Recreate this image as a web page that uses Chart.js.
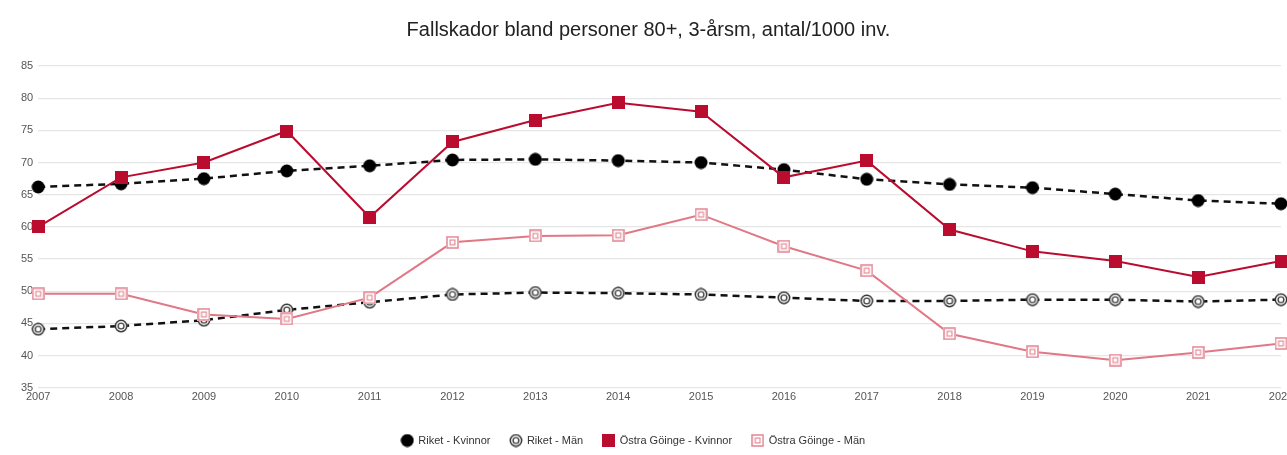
<!DOCTYPE html>
<html>
<head>
<meta charset="utf-8">
<script src="https://cdn.jsdelivr.net/npm/chart.js@4.4.1/dist/chart.umd.min.js"></script>
<style>
  html, body { margin: 0; padding: 0; background: #fff; overflow: hidden; }
  #wrap { width: 1300px; height: 455px; }
</style>
</head>
<body>
<div id="wrap"><canvas id="c" width="1300" height="455"></canvas></div>
<script>
const years = ['2007','2008','2009','2010','2011','2012','2013','2014','2015','2016','2017','2018','2019','2020','2021','2022'];
const riketKvinnor = [66.2, 66.7, 67.5, 68.7, 69.5, 70.4, 70.5, 70.3, 70.0, 68.9, 67.4, 66.6, 66.1, 65.1, 64.1, 63.6];
const riketMan = [44.1, 44.6, 45.5, 47.1, 48.3, 49.5, 49.8, 49.7, 49.5, 49.0, 48.5, 48.5, 48.7, 48.7, 48.4, 48.7];
const goingeKvinnor = [60.0, 67.7, 70.0, 74.9, 61.5, 73.2, 76.6, 79.3, 77.9, 67.7, 70.3, 59.6, 56.2, 54.7, 52.2, 54.7];
const goingeMan = [49.6, 49.6, 46.4, 45.7, 49.0, 57.6, 58.6, 58.7, 61.9, 57.0, 53.2, 43.4, 40.6, 39.3, 40.5, 41.9];
const seriesNames = ['Riket - Kvinnor', 'Riket - Män', 'Östra Göinge - Kvinnor', 'Östra Göinge - Män'];
const titleText = 'Fallskador bland personer 80+, 3-årsm, antal/1000 inv.';

const DARK_RED = '#BA0C2F';
const LIGHT_RED = '#E07886';
const FONT = 'Liberation Sans, Arial, sans-serif';

function makeCanvas(size, draw) {
  const c = document.createElement('canvas');
  c.width = size; c.height = size;
  draw(c.getContext('2d'), size);
  return c;
}
const blackDot = makeCanvas(14, (ctx, s) => {
  ctx.fillStyle = '#000';
  ctx.beginPath(); ctx.arc(s/2, s/2, 6.5, 0, Math.PI*2); ctx.fill();
});
const ringDot = makeCanvas(14, (ctx, s) => {
  ctx.fillStyle = '#fff';
  ctx.beginPath(); ctx.arc(s/2, s/2, 6.2, 0, Math.PI*2); ctx.fill();
  ctx.strokeStyle = '#333'; ctx.lineWidth = 1.5;
  ctx.beginPath(); ctx.arc(s/2, s/2, 5.7, 0, Math.PI*2); ctx.stroke();
  ctx.strokeStyle = '#444'; ctx.lineWidth = 1.4;
  ctx.beginPath(); ctx.arc(s/2, s/2, 2.9, 0, Math.PI*2); ctx.stroke();
});
const redSquare = makeCanvas(13, (ctx, s) => {
  ctx.fillStyle = DARK_RED;
  ctx.fillRect(0, 0, s, s);
});
const hollowSquare = makeCanvas(13, (ctx, s) => {
  ctx.fillStyle = '#fff';
  ctx.fillRect(0, 0, s, s);
  ctx.strokeStyle = '#E58C98'; ctx.lineWidth = 1.6;
  ctx.strokeRect(1, 1, s-2, s-2);
  ctx.lineWidth = 1.2;
  ctx.strokeRect(4.1, 4.1, s-8.2, s-8.2);
});

// nudge the legend box to the reference position after layout
const legendShift = {
  id: 'legendShift',
  afterLayout(chart) {
    const lg = chart.legend;
    const dx = -15, dy = 1;
    lg.left += dx; lg.right += dx;
    lg.top += dy; lg.bottom += dy;
  }
};

new Chart(document.getElementById('c'), {
  type: 'line',
  data: {
    labels: years,
    datasets: [
      { label: seriesNames[0], data: riketKvinnor, borderColor: '#111', borderWidth: 2.5, borderDash: [7, 5],
        pointStyle: blackDot, pointRadius: 7, order: 2 },
      { label: seriesNames[1], data: riketMan, borderColor: '#111', borderWidth: 2.5, borderDash: [7, 5],
        pointStyle: ringDot, pointRadius: 7, order: 3 },
      { label: seriesNames[2], data: goingeKvinnor, borderColor: DARK_RED, borderWidth: 2,
        pointStyle: redSquare, pointRadius: 7, order: 0 },
      { label: seriesNames[3], data: goingeMan, borderColor: LIGHT_RED, borderWidth: 2,
        pointStyle: hollowSquare, pointRadius: 7, order: 1 }
    ]
  },
  options: {
    responsive: false,
    animation: false,
    devicePixelRatio: 1,
    layout: { padding: { left: 16, right: 19, top: 0, bottom: 0 } },
    elements: { line: { tension: 0 } },
    plugins: {
      title: {
        display: true, text: titleText, color: '#222',
        font: { family: FONT, size: 20, weight: 'normal' },
        padding: { top: 18, bottom: 24 }
      },
      legend: {
        position: 'bottom',
        labels: {
          usePointStyle: true,
          color: '#333',
          font: { family: FONT, size: 11 },
          padding: 20,
          sort: (a, b) => a.datasetIndex - b.datasetIndex
        }
      },
      tooltip: { enabled: false }
    },
    scales: {
      x: {
        grid: { display: false, drawTicks: false },
        border: { display: false },
        afterFit(scale) { scale.height += 7; },
        ticks: { color: '#555', font: { family: FONT, size: 11 }, padding: 3, maxRotation: 0, autoSkip: false }
      },
      y: {
        min: 35, max: 85,
        grid: { color: '#e6e6e6', drawTicks: false, lineWidth: 1.3 },
        border: { display: false },
        ticks: { stepSize: 5, color: '#555', font: { family: FONT, size: 11 }, padding: 5 }
      }
    }
  },
  plugins: [legendShift]
});
</script>
</body>
</html>
